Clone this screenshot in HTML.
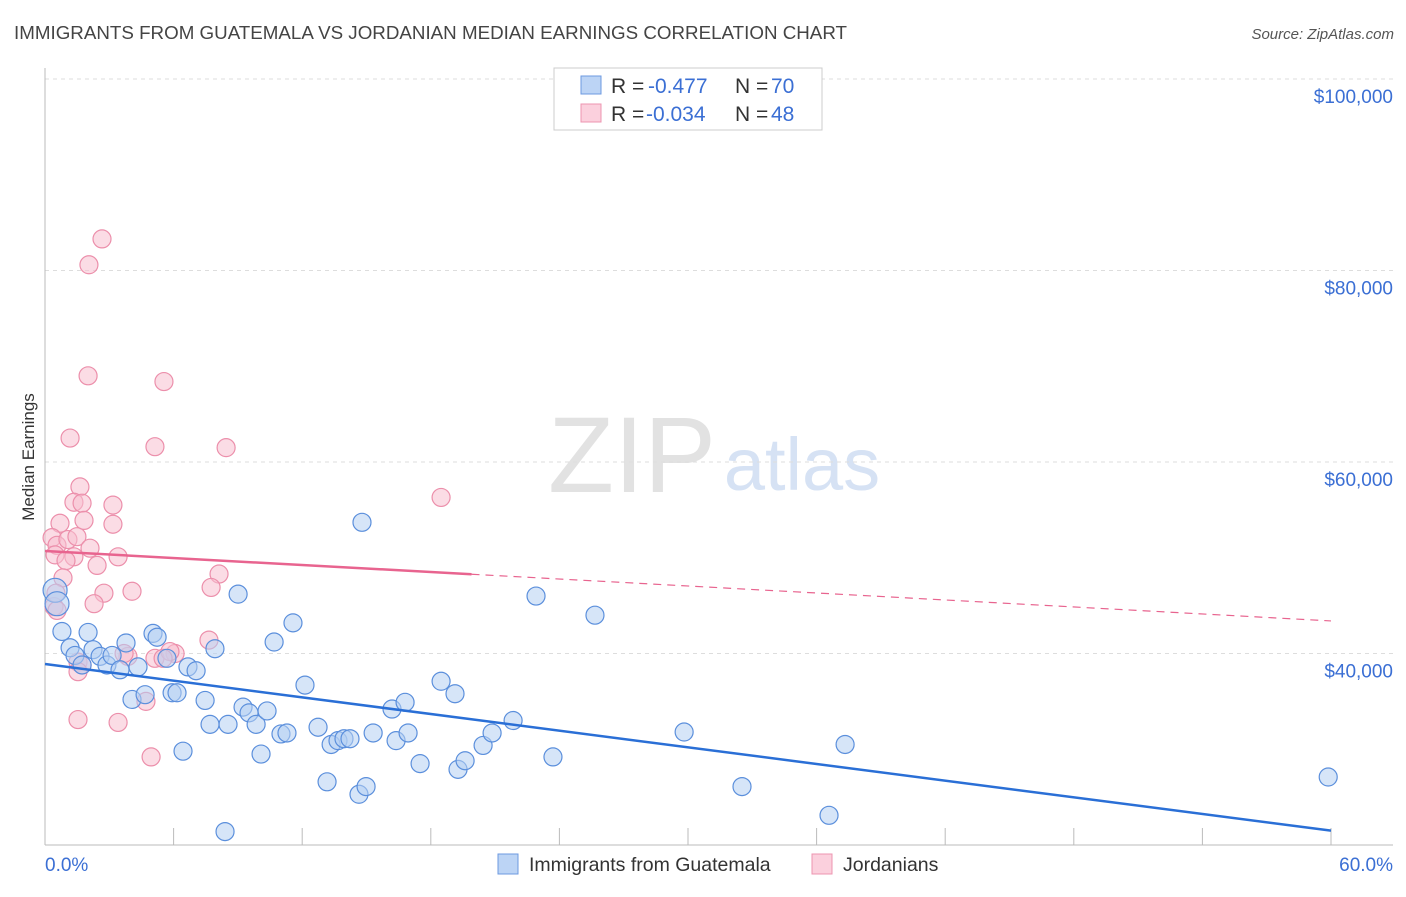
<!DOCTYPE html>
<html><head><meta charset="utf-8"><style>
body{margin:0;background:#fff;font-family:"Liberation Sans",sans-serif}
svg text{font-family:"Liberation Sans",sans-serif}
</style></head><body>
<svg id="chart" width="1406" height="892" xmlns="http://www.w3.org/2000/svg">
<text x="14" y="39" font-size="18.5" fill="#444" textLength="833" lengthAdjust="spacingAndGlyphs">IMMIGRANTS FROM GUATEMALA VS JORDANIAN MEDIAN EARNINGS CORRELATION CHART</text>
<text x="1394" y="39" font-size="15" fill="#555" text-anchor="end" font-style="italic">Source: ZipAtlas.com</text>
<text transform="translate(34,457) rotate(-90)" font-size="17" fill="#333" text-anchor="middle">Median Earnings</text>
<g><text x="632" y="492" font-size="108" fill="#e2e2e2" text-anchor="middle" font-family="Liberation Serif,serif">ZIP</text><text x="802" y="490" font-size="74" fill="#d6e2f4" text-anchor="middle">atlas</text></g>
<g id="grid"></g><g id="axes"></g><g id="pts"></g><g id="trend"></g>
<g>
<rect x="554" y="68" width="268" height="62" fill="#fff" stroke="#ccc"/>
<rect x="581" y="76" width="20" height="18" fill="#bcd4f5" stroke="#6d9ae0"/>
<text x="611" y="93" font-size="21" fill="#333">R = </text><text x="648" y="93" font-size="21" fill="#3b6fd4">-0.477</text>
<text x="735" y="93" font-size="21" fill="#333">N = </text><text x="771" y="93" font-size="21" fill="#3b6fd4">70</text>
<rect x="581" y="104" width="20" height="18" fill="#fbd0dd" stroke="#ec95b0"/>
<text x="611" y="121" font-size="21" fill="#333">R = </text><text x="646" y="121" font-size="21" fill="#3b6fd4">-0.034</text>
<text x="735" y="121" font-size="21" fill="#333">N = </text><text x="771" y="121" font-size="21" fill="#3b6fd4">48</text>
</g>
<g>
<rect x="498" y="854" width="20" height="20" fill="#bcd4f5" stroke="#6d9ae0"/>
<text x="529" y="871" font-size="19.5" fill="#333">Immigrants from Guatemala</text>
<rect x="812" y="854" width="20" height="20" fill="#fbd0dd" stroke="#ec95b0"/>
<text x="843" y="871" font-size="19.5" fill="#333">Jordanians</text>
</g>
</svg>
<script>
const yTicks=[40000,60000,80000,100000];
const yTickLabels=["$40,000","$60,000","$80,000","$100,000"];
const xTickLabels=["0.0%","60.0%"];
const blueX=[0.47,0.56,0.79,1.17,1.40,1.73,2.24,2.57,2.89,3.13,3.50,2.01,3.78,4.06,4.34,4.67,5.04,5.23,5.69,5.93,6.16,6.44,6.67,7.05,7.47,7.70,7.93,8.40,8.54,9.01,9.24,9.52,9.85,10.08,10.36,10.69,11.01,11.29,11.57,12.13,12.74,13.16,13.35,13.67,13.95,14.23,14.79,14.65,14.98,15.31,16.19,16.38,16.80,16.94,17.50,18.48,19.13,19.27,19.60,20.44,20.86,21.84,22.91,23.70,25.66,29.82,32.52,36.58,37.33,59.87];
const blueY=[46.6,45.2,42.3,40.6,39.8,38.8,40.4,39.7,38.8,39.8,38.3,42.2,41.1,35.2,38.6,35.7,42.1,41.7,39.5,35.9,35.9,29.8,38.6,38.2,35.1,32.6,40.5,21.4,32.6,46.2,34.4,33.8,32.6,29.5,34.0,41.2,31.6,31.7,43.2,36.7,32.3,26.6,30.5,30.9,31.1,31.1,53.7,25.3,26.1,31.7,34.2,30.9,34.9,31.7,28.5,37.1,35.8,27.9,28.8,30.4,31.7,33.0,46.0,29.2,44.0,31.8,26.1,23.1,30.5,27.1];
const pinkX=[2.66,2.05,2.01,5.55,1.17,5.13,8.45,18.48,1.63,1.35,1.73,3.17,0.70,1.82,3.17,0.33,0.56,1.07,1.49,2.10,0.47,1.35,3.41,0.98,2.43,0.84,8.12,7.75,2.75,4.06,2.29,0.42,0.56,0.51,1.54,1.73,7.65,3.87,5.13,6.07,4.71,1.54,3.41,4.95,5.83,5.51,3.69,1.54];
const pinkY=[83.3,80.6,69.0,68.4,62.5,61.6,61.5,56.3,57.4,55.8,55.7,55.5,53.6,53.9,53.5,52.1,51.3,51.9,52.2,51.0,50.3,50.1,50.1,49.7,49.2,47.9,48.3,46.9,46.3,46.5,45.2,44.9,44.5,46.3,39.1,38.8,41.4,39.7,39.5,40.0,35.0,33.1,32.8,29.2,40.2,39.5,40.0,38.1];
const blueTrend=[38.9,21.5];
const pinkTrend=[50.7,43.4];
const pinkSolidEnd=19.9;
const NS="http://www.w3.org/2000/svg";
const X=p=>45+p*(1286/60);
const Y=v=>79+(100000-v)/20000*191.5;
const Yk=k=>Y(k*1000);
function mk(t,a,parent){const e=document.createElementNS(NS,t);for(const k in a)e.setAttribute(k,a[k]);document.getElementById(parent).appendChild(e);return e;}
yTicks.forEach((v,i)=>{
 const g=mk('line',{x1:45,x2:1393,y1:Y(v),y2:Y(v),stroke:'#ddd','stroke-dasharray':'4,4'},'grid');
 
 
 const t=mk('text',{x:1393,y:Y(v)+24,'font-size':19,fill:'#3b6fd4','text-anchor':'end'},'axes');
 t.textContent=yTickLabels[i];
 
 
});
const tl=mk('line',{x1:45,x2:1393,y1:79,y2:79,stroke:'#ddd','stroke-dasharray':'4,4'},'grid');


const ya=mk('line',{x1:45,x2:45,y1:68,y2:845,stroke:'#bbb'},'axes');


const xa=mk('line',{x1:45,x2:1393,y1:845,y2:845,stroke:'#bbb'},'axes');


for(let i=0;i<=10;i++){
 const tk=mk('line',{x1:X(i*6),x2:X(i*6),y1:828,y2:845,stroke:'#bbb'},'axes');
 
 
}
[[0,'start',45],[60,'end',1393]].forEach((d,i)=>{
 const t=mk('text',{x:d[2],y:871,'font-size':19,fill:'#3b6fd4','text-anchor':d[1]},'axes');
 t.textContent=xTickLabels[i];
 
 
});
function pts(xs,ys,fill,stroke,name){
 xs.forEach((x,i)=>{
  const r=(i<2&&name==='guatemala-point')?12:9;
  const c=mk('circle',{cx:X(x),cy:Yk(ys[i]),r:r,fill:fill,'fill-opacity':0.55,stroke:stroke,'stroke-width':1.2},'pts');
  
  
 });
}
pts(pinkX,pinkY,'#f8bfd0','#ec8fab','jordanian-point');
pts(blueX,blueY,'#b4cff3','#5b8fdc','guatemala-point');
const bt=mk('line',{x1:X(0),y1:Yk(blueTrend[0]),x2:X(60),y2:Yk(blueTrend[1]),stroke:'#2a6fd6','stroke-width':2.5},'trend');


const pm=pinkTrend[0]+(pinkTrend[1]-pinkTrend[0])*pinkSolidEnd/60;
const ps=mk('line',{x1:X(0),y1:Yk(pinkTrend[0]),x2:X(pinkSolidEnd),y2:Yk(pm),stroke:'#e8648f','stroke-width':2.5},'trend');


const pd=mk('line',{x1:X(pinkSolidEnd),y1:Yk(pm),x2:X(60),y2:Yk(pinkTrend[1]),stroke:'#e8648f','stroke-width':1.2,'stroke-dasharray':'8,6'},'trend');


</script>
</body></html>
